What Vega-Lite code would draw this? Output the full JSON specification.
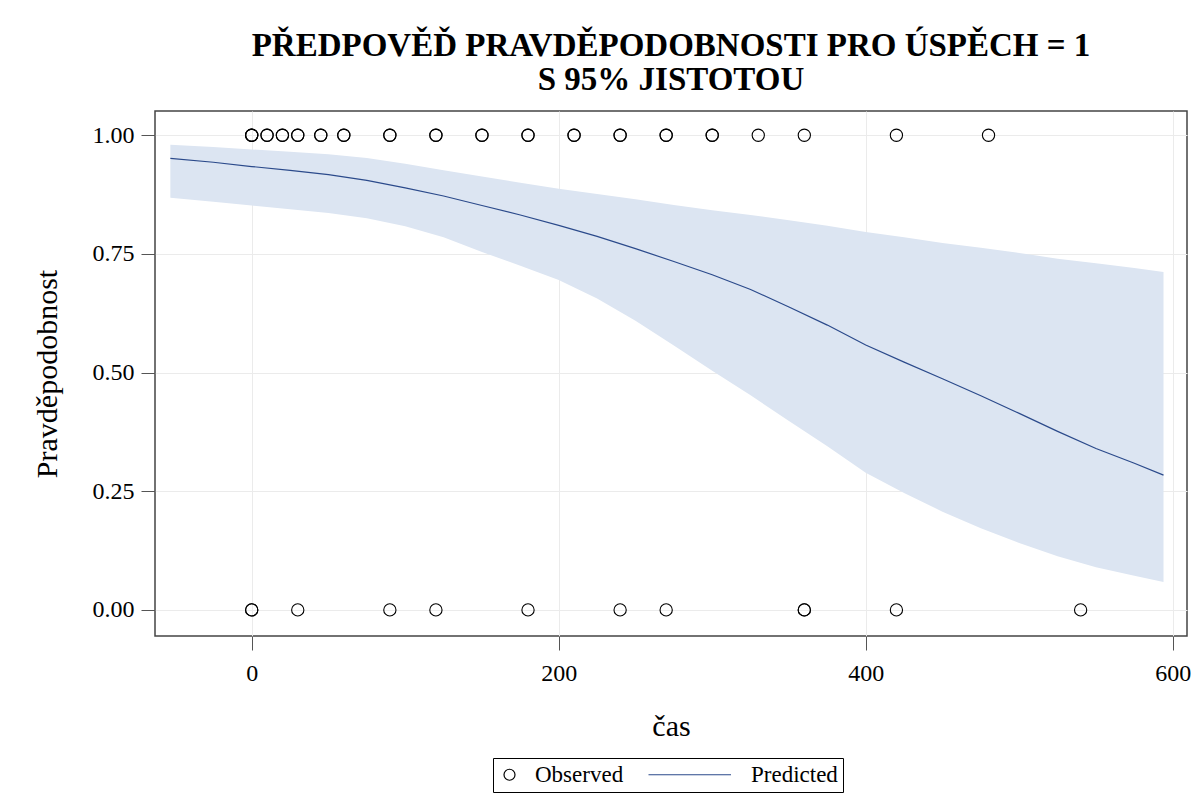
{
  "$schema": "https://vega.github.io/schema/vega-lite/v6.json",
  "width": 1032,
  "height": 525,
  "autosize": {"type": "none"},
  "padding": {"left": 155, "top": 111, "right": 12, "bottom": 166},
  "background": "white",
  "title": {
    "text": ["PŘEDPOVĚĎ PRAVDĚPODOBNOSTI PRO ÚSPĚCH = 1", "S 95% JISTOTOU"],
    "font": "Liberation Serif",
    "fontSize": 33,
    "fontWeight": "bold",
    "color": "black",
    "anchor": "middle",
    "lineHeight": 34,
    "offset": 14
  },
  "datasets": {
    "band": [
      {"cas": -53, "lower": 0.868, "upper": 0.980, "pred": 0.951},
      {"cas": -25, "lower": 0.860, "upper": 0.975, "pred": 0.943},
      {"cas": 0, "lower": 0.852, "upper": 0.970, "pred": 0.934},
      {"cas": 25, "lower": 0.844, "upper": 0.965, "pred": 0.926},
      {"cas": 50, "lower": 0.836, "upper": 0.960, "pred": 0.917},
      {"cas": 75, "lower": 0.825, "upper": 0.952, "pred": 0.905},
      {"cas": 100, "lower": 0.808, "upper": 0.940, "pred": 0.889},
      {"cas": 125, "lower": 0.785, "upper": 0.926, "pred": 0.872},
      {"cas": 150, "lower": 0.754, "upper": 0.913, "pred": 0.852},
      {"cas": 175, "lower": 0.725, "upper": 0.900, "pred": 0.832},
      {"cas": 200, "lower": 0.695, "upper": 0.887, "pred": 0.810},
      {"cas": 225, "lower": 0.656, "upper": 0.876, "pred": 0.787},
      {"cas": 250, "lower": 0.609, "upper": 0.865, "pred": 0.761},
      {"cas": 275, "lower": 0.557, "upper": 0.853, "pred": 0.734},
      {"cas": 300, "lower": 0.504, "upper": 0.842, "pred": 0.706},
      {"cas": 325, "lower": 0.452, "upper": 0.832, "pred": 0.675},
      {"cas": 350, "lower": 0.398, "upper": 0.821, "pred": 0.638},
      {"cas": 375, "lower": 0.345, "upper": 0.809, "pred": 0.600},
      {"cas": 400, "lower": 0.289, "upper": 0.796, "pred": 0.558},
      {"cas": 425, "lower": 0.246, "upper": 0.785, "pred": 0.522},
      {"cas": 450, "lower": 0.207, "upper": 0.773, "pred": 0.487},
      {"cas": 475, "lower": 0.172, "upper": 0.763, "pred": 0.451},
      {"cas": 500, "lower": 0.141, "upper": 0.752, "pred": 0.414},
      {"cas": 525, "lower": 0.113, "upper": 0.740, "pred": 0.376},
      {"cas": 550, "lower": 0.090, "upper": 0.730, "pred": 0.340},
      {"cas": 575, "lower": 0.072, "upper": 0.720, "pred": 0.309},
      {"cas": 594, "lower": 0.059, "upper": 0.712, "pred": 0.284}
    ],
    "obs": [
      {"cas": 0, "uspech": 1}, {"cas": 0, "uspech": 1}, {"cas": 0, "uspech": 1},
      {"cas": 10, "uspech": 1}, {"cas": 10, "uspech": 1},
      {"cas": 20, "uspech": 1}, {"cas": 20, "uspech": 1},
      {"cas": 30, "uspech": 1}, {"cas": 30, "uspech": 1},
      {"cas": 45, "uspech": 1}, {"cas": 45, "uspech": 1},
      {"cas": 60, "uspech": 1}, {"cas": 60, "uspech": 1},
      {"cas": 90, "uspech": 1}, {"cas": 90, "uspech": 1},
      {"cas": 120, "uspech": 1}, {"cas": 120, "uspech": 1},
      {"cas": 150, "uspech": 1}, {"cas": 150, "uspech": 1},
      {"cas": 180, "uspech": 1}, {"cas": 180, "uspech": 1},
      {"cas": 210, "uspech": 1}, {"cas": 210, "uspech": 1},
      {"cas": 240, "uspech": 1}, {"cas": 240, "uspech": 1},
      {"cas": 270, "uspech": 1}, {"cas": 270, "uspech": 1},
      {"cas": 300, "uspech": 1}, {"cas": 300, "uspech": 1},
      {"cas": 330, "uspech": 1},
      {"cas": 360, "uspech": 1},
      {"cas": 420, "uspech": 1},
      {"cas": 480, "uspech": 1},
      {"cas": 0, "uspech": 0}, {"cas": 0, "uspech": 0},
      {"cas": 30, "uspech": 0},
      {"cas": 90, "uspech": 0},
      {"cas": 120, "uspech": 0},
      {"cas": 180, "uspech": 0},
      {"cas": 240, "uspech": 0},
      {"cas": 270, "uspech": 0},
      {"cas": 360, "uspech": 0}, {"cas": 360, "uspech": 0},
      {"cas": 420, "uspech": 0},
      {"cas": 540, "uspech": 0}
    ]
  },
  "layer": [
    {
      "data": {"name": "band"},
      "mark": {"type": "area", "color": "#dce5f2", "opacity": 1},
      "encoding": {
        "x": {"field": "cas", "type": "quantitative"},
        "y": {"field": "lower", "type": "quantitative"},
        "y2": {"field": "upper"}
      }
    },
    {
      "data": {"name": "band"},
      "mark": {"type": "line", "strokeWidth": 1.2},
      "encoding": {
        "x": {"field": "cas", "type": "quantitative"},
        "y": {"field": "pred", "type": "quantitative"},
        "color": {"datum": "Predicted", "type": "nominal"}
      }
    },
    {
      "data": {"name": "obs"},
      "mark": {"type": "point", "filled": false, "size": 150, "strokeWidth": 1.1, "opacity": 1},
      "encoding": {
        "x": {"field": "cas", "type": "quantitative"},
        "y": {"field": "uspech", "type": "quantitative"},
        "color": {"datum": "Observed", "type": "nominal"},
        "shape": {"datum": "Observed", "type": "nominal"}
      }
    }
  ],
  "resolve": {"scale": {"color": "shared", "shape": "shared"}},
  "encoding": {
    "x": {
      "field": "cas", "type": "quantitative",
      "scale": {"domain": [-63, 609.3], "nice": false, "zero": false},
      "axis": {"title": "čas", "values": [0, 200, 400, 600]}
    },
    "y": {
      "field": "uspech", "type": "quantitative",
      "scale": {"domain": [-0.055, 1.051], "nice": false, "zero": false},
      "axis": {"title": "Pravděpodobnost", "values": [0, 0.25, 0.5, 0.75, 1], "format": ".2f"}
    },
    "color": {
      "scale": {"domain": ["Observed", "Predicted"], "range": ["black", "#2b4a8b"]},
      "legend": {"title": null}
    },
    "shape": {
      "scale": {"domain": ["Observed", "Predicted"], "range": ["circle", "M-14,0L1,0"]},
      "legend": {"title": null}
    }
  },
  "config": {
    "view": {"stroke": "#444444", "strokeWidth": 1.5},
    "axis": {
      "labelFont": "Liberation Serif",
      "labelFontSize": 24,
      "labelColor": "black",
      "titleFont": "Liberation Serif",
      "titleFontSize": 30,
      "titleFontWeight": "normal",
      "titleColor": "black",
      "tickSize": 14,
      "tickColor": "#555555",
      "tickWidth": 1,
      "domain": false,
      "grid": true,
      "gridColor": "#ebebeb",
      "gridWidth": 1
    },
    "axisX": {"titlePadding": 26, "labelPadding": 11},
    "axisY": {"titlePadding": 30, "labelPadding": 7},
    "legend": {
      "orient": "none",
      "legendX": 338,
      "legendY": 647,
      "direction": "horizontal",
      "strokeColor": "black",
      "padding": 5,
      "labelFont": "Liberation Serif",
      "labelFontSize": 23,
      "labelColor": "black",
      "symbolSize": 121,
      "symbolStrokeWidth": 1.2,
      "labelOffset": 14,
      "columnPadding": 22
    }
  }
}
